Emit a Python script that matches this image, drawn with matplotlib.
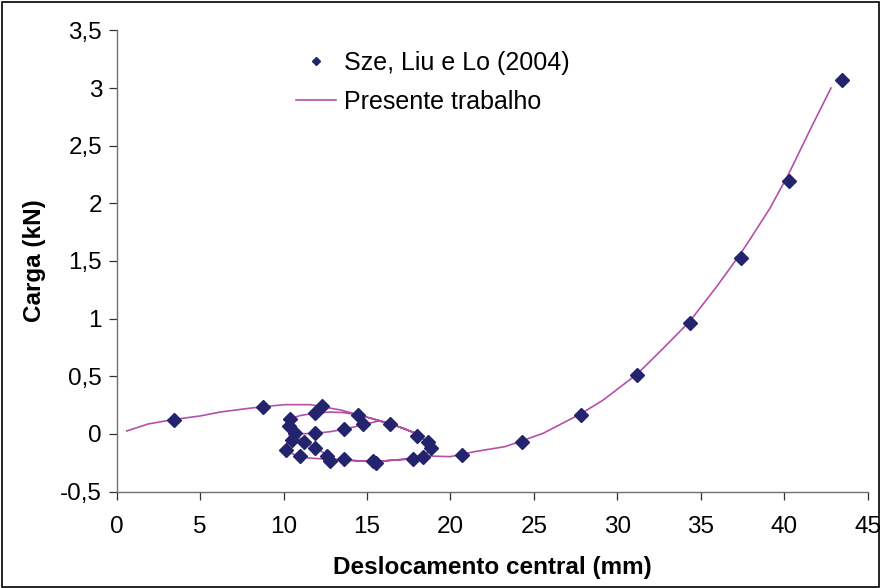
import matplotlib
matplotlib.use("Agg")
import matplotlib.pyplot as plt
from matplotlib.patches import Rectangle

plt.rcParams['font.family'] = ['Liberation Sans', 'DejaVu Sans']

# Reference data (Sze, Liu e Lo, 2004)
sze_x = [3.43, 8.78, 12.28, 11.88, 10.38, 10.34, 10.68, 10.48, 10.16, 11.0,
         11.22, 11.88, 11.88, 12.58, 12.80, 13.60, 13.60, 14.44, 14.78, 16.37,
         15.37, 15.54, 17.73, 18.01, 18.33, 18.63, 18.83, 20.71, 24.27, 27.82,
         31.19, 34.33, 37.41, 40.28, 43.44]
sze_y = [0.121, 0.237, 0.240, 0.180, 0.133, 0.065, 0.009, -0.050, -0.137, -0.192,
         -0.070, 0.012, -0.122, -0.188, -0.237, -0.220, 0.044, 0.165, 0.084, 0.084,
         -0.234, -0.249, -0.220, -0.015, -0.197, -0.067, -0.124, -0.182, -0.068, 0.165,
         0.512, 0.960, 1.530, 2.190, 3.070]

# Present work (numerical curve)
pt_x = [0.6, 1.9, 3.4, 5.0, 6.2, 7.8, 8.8, 10.1, 11.6, 12.3, 13.4, 14.4, 15.5, 16.4,
        17.2, 18.0, 18.6, 18.97,
        18.4, 17.7, 16.7, 15.5, 14.5, 13.6, 12.8, 11.6, 11.0, 10.4, 10.1, 10.2, 10.35,
        10.3, 10.35,
        11.0, 11.9, 12.8, 13.6, 14.5, 15.5, 16.4, 17.2, 18.0, 18.6, 18.97,
        18.4, 17.7, 15.5, 13.6, 12.9, 12.6, 11.9, 11.2, 10.7,
        11.9, 12.8, 13.6, 14.8, 15.7, 16.4, 17.2, 18.0, 18.6, 18.97, 18.4,
        19.97, 21.47, 23.27, 24.27, 25.56, 27.82, 29.16, 31.19, 32.75, 34.33,
        35.95, 37.41, 38.05, 39.14, 40.28, 41.64, 42.8]
pt_y = [0.026, 0.087, 0.125, 0.156, 0.19, 0.22, 0.237, 0.254, 0.254, 0.237, 0.208,
        0.17, 0.125, 0.088, 0.047, 0.0, -0.07, -0.12,
        -0.19, -0.215, -0.225, -0.24, -0.235, -0.225, -0.22, -0.21, -0.195, -0.165,
        -0.14, -0.08, -0.02, 0.06, 0.13,
        0.16, 0.18, 0.19, 0.185, 0.165, 0.125, 0.088, 0.047, 0.0, -0.07, -0.12,
        -0.19, -0.215, -0.24, -0.225, -0.22, -0.18, -0.12, -0.065, 0.0,
        0.005, 0.02, 0.04, 0.08, 0.113, 0.088, 0.047, 0.0, -0.07, -0.12, -0.19,
        -0.197, -0.153, -0.11, -0.06, 0.006, 0.176, 0.295, 0.52, 0.743, 0.975,
        1.278, 1.57, 1.711, 1.957, 2.26, 2.665, 3.0]

x_ticks = [0, 5, 10, 15, 20, 25, 30, 35, 40, 45]
y_ticks = [-0.5, 0, 0.5, 1, 1.5, 2, 2.5, 3, 3.5]
y_tick_labels = ['-0,5', '0', '0,5', '1', '1,5', '2', '2,5', '3', '3,5']

fig = plt.figure(figsize=(8.8, 5.88), dpi=100)
ax = fig.add_axes([116.7 / 880, 1 - 491.6 / 588, (867.7 - 116.7) / 880, (491.6 - 30.4) / 588])

ax.plot(pt_x, pt_y, color='#B450A8', lw=1.2, label='Presente trabalho', zorder=2)
ax.plot(sze_x, sze_y, linestyle='none', marker='D', markersize=7,
        color='#24246E', label='Sze, Liu e Lo (2004)', zorder=3)

ax.set_xlim(0, 45)
ax.set_ylim(-0.5, 3.5)
ax.set_xticks(x_ticks)
ax.set_xticklabels([str(v) for v in x_ticks])
ax.set_yticks(y_ticks)
ax.set_yticklabels(y_tick_labels)

for s in ['top', 'right']:
    ax.spines[s].set_visible(False)
for s in ['left', 'bottom']:
    ax.spines[s].set_color('#707070')
    ax.spines[s].set_linewidth(1.0)
ax.tick_params(axis='both', direction='out', length=5.5, width=0.9, color='#303030',
               labelsize=17.5, labelcolor='black')
ax.tick_params(axis='x', pad=12)
ax.tick_params(axis='y', pad=5)

ax.set_xlabel('Deslocamento central (mm)', fontsize=17.5, fontweight='bold', labelpad=13)
ax.set_ylabel('Carga (kN)', fontsize=17.5, fontweight='bold', labelpad=10)

handles, labels = ax.get_legend_handles_labels()
leg = ax.legend(handles[::-1], labels[::-1], loc='upper left',
                bbox_to_anchor=(296 / 880, 1 - 51 / 588), bbox_transform=fig.transFigure,
                frameon=False, fontsize=18, handlelength=1.6, handletextpad=0.3,
                labelspacing=0.6, borderpad=0, borderaxespad=0, markerscale=0.65)

fig.patches.append(Rectangle((1.5 / 880, 1.5 / 588), 877 / 880, 585 / 588,
                             transform=fig.transFigure, fill=False,
                             edgecolor='black', linewidth=1.2))

fig.savefig('out.png', dpi=100)
